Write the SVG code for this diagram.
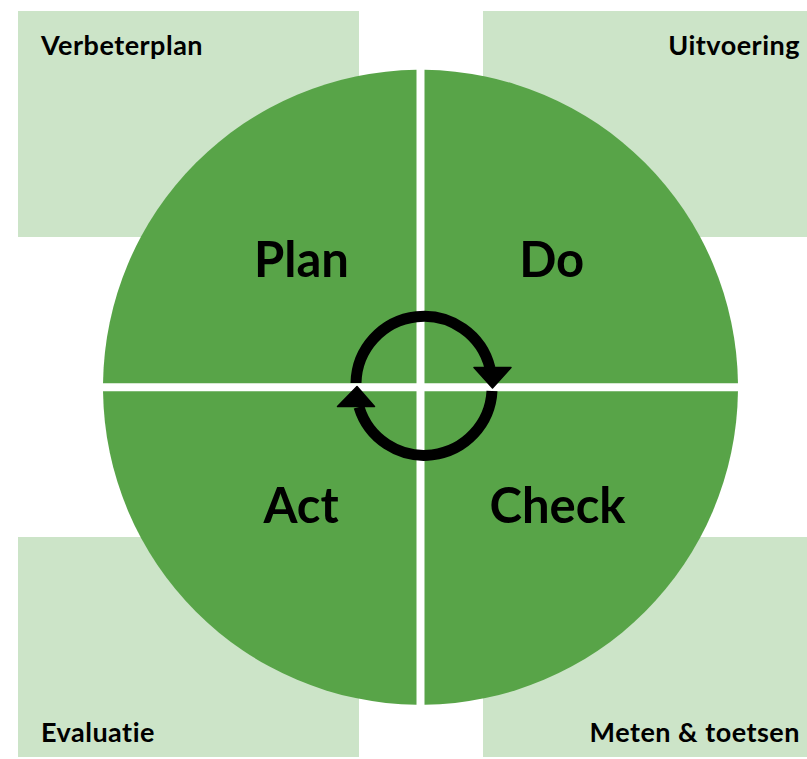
<svg xmlns="http://www.w3.org/2000/svg" width="807" height="759" viewBox="0 0 807 759">
  <style>
    .box { fill: #CCE4C8; }
    .quad { fill: #58A448; }
    .small { font-family: Lato, "Liberation Sans", sans-serif; font-weight: 700; font-size: 27px; letter-spacing: 0.5px; fill: #000; }
    .big { font-family: Lato, "Liberation Sans", sans-serif; font-weight: 700; font-size: 49px; fill: #000; text-anchor: middle; }
    .ring { fill: none; stroke: #000; stroke-width: 11; }
    .head { fill: #000; stroke: #000; stroke-width: 1.5; stroke-linejoin: round; }
  </style>
  <rect width="807" height="759" fill="#fff"/>
  <g id="box-verbeterplan">
    <rect class="box" x="18" y="11" width="341" height="226"/>
    <text class="small" x="41" y="55">Verbeterplan</text>
  </g>
  <g id="box-uitvoering">
    <rect class="box" x="483" y="11" width="324" height="226"/>
    <text class="small" x="800" y="55" text-anchor="end">Uitvoering</text>
  </g>
  <g id="box-evaluatie">
    <rect class="box" x="18" y="537" width="341" height="220"/>
    <text class="small" x="41" y="742">Evaluatie</text>
  </g>
  <g id="box-meten">
    <rect class="box" x="483" y="537" width="324" height="220"/>
    <text class="small" x="800" y="742" text-anchor="end">Meten &amp; toetsen</text>
  </g>
  <g id="plan">
    <path class="quad" d="M416.5 383.3 L103.03 383.3 A317.5 317.5 0 0 1 416.5 69.83 Z"/>
    <text class="big" x="301.5" y="277">Plan</text>
  </g>
  <g id="do">
    <path class="quad" d="M424.5 383.3 L424.5 69.83 A317.5 317.5 0 0 1 737.97 383.3 Z"/>
    <text class="big" x="551.7" y="277">Do</text>
  </g>
  <g id="check">
    <path class="quad" d="M424.5 391.3 L737.97 391.3 A317.5 317.5 0 0 1 424.5 704.77 Z"/>
    <text class="big" x="557.5" y="523">Check</text>
  </g>
  <g id="act">
    <path class="quad" d="M416.5 391.3 L416.5 704.77 A317.5 317.5 0 0 1 103.03 391.3 Z"/>
    <text class="big" x="301" y="523">Act</text>
  </g>
  <g id="connectors">
    <path class="ring" d="M356 383 A68 68 0 0 1 490 368"/>
    <polygon class="head" points="474,367.5 511,367.5 492.5,388"/>
    <path class="ring" d="M492 391 A68 68 0 0 1 359 407"/>
    <polygon class="head" points="357,386.5 337.5,406.5 374.5,406.5"/>
  </g>
</svg>
